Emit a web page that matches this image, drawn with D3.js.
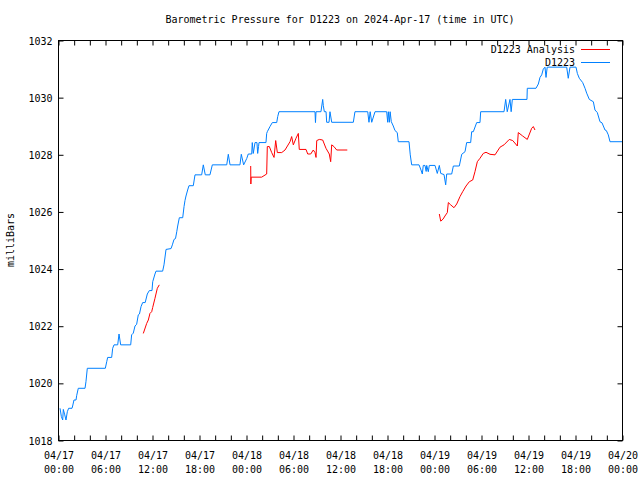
<!DOCTYPE html>
<html><head><meta charset="utf-8">
<script src="https://cdn.jsdelivr.net/npm/d3@7"></script>
<style>body{margin:0;background:#fff}svg{display:block}text{font-family:"DejaVu Sans Mono",monospace;font-size:10px;fill:#000}</style>
</head><body><svg id="c" width="640" height="480"></svg>
<script>
// ---- data (hours after 2024-04-17 00:00 UTC, millibars) ----
const stationHours = [0.26,0.43,0.60,0.68,0.86,1.02,1.19,1.36,1.79,1.87,2.04,2.30,2.38,2.59,3.45,3.57,3.74,6.04,6.22,6.34,6.85,6.98,7.15,7.62,7.79,8.00,9.28,9.40,9.61,9.83,10.04,10.25,10.40,10.60,10.81,11.13,11.40,11.66,12.00,12.09,12.38,12.51,13.36,13.53,13.79,14.43,14.60,14.81,15.00,15.16,15.28,15.49,15.92,16.09,16.21,16.34,16.55,16.72,17.27,17.49,18.34,18.55,18.80,19.40,19.70,21.54,21.74,21.96,23.23,23.40,23.70,24.09,24.29,24.73,24.80,24.93,25.15,25.40,25.49,25.60,25.66,26.55,26.64,26.72,27.06,27.36,27.92,28.05,28.21,32.81,32.87,32.94,33.57,33.79,33.87,34.00,34.22,34.30,34.60,34.72,34.94,37.70,37.91,39.54,39.70,39.85,40.05,40.47,41.96,42.09,42.17,42.30,42.40,42.55,42.80,43.02,43.31,43.44,44.81,44.97,45.15,46.09,46.34,46.51,46.63,46.85,47.00,47.07,47.27,47.40,48.13,48.42,48.68,48.86,49.28,49.49,49.62,50.26,50.47,51.23,51.54,51.96,52.17,52.68,52.81,53.02,53.45,53.87,53.96,56.94,57.15,57.35,57.70,57.85,58.00,59.87,59.91,61.02,61.32,61.53,61.75,61.95,62.17,62.30,62.45,64.94,65.14,65.36,66.13,66.30,66.55,66.98,67.28,67.49,67.83,68.34,68.55,68.85,69.19,69.45,69.83,70.00,70.25,70.47,72.00];
const stationValues = [1019.11,1018.82,1018.70,1019.07,1018.88,1018.70,1018.99,1019.11,1019.11,1019.19,1019.40,1019.40,1019.55,1019.81,1019.81,1020.04,1020.51,1020.51,1020.74,1020.89,1020.89,1021.21,1021.33,1021.33,1021.71,1021.33,1021.33,1021.68,1021.74,1021.99,1022.05,1022.38,1022.41,1022.67,1022.81,1022.81,1023.11,1023.23,1023.23,1023.54,1023.81,1023.91,1023.91,1024.13,1024.67,1024.70,1024.83,1025.02,1025.05,1025.29,1025.49,1025.78,1025.78,1026.17,1026.38,1026.54,1026.75,1026.90,1026.90,1027.28,1027.28,1027.63,1027.28,1027.28,1027.63,1027.63,1028.00,1027.63,1027.63,1028.00,1027.63,1027.85,1028.01,1028.01,1028.41,1028.03,1028.41,1028.41,1028.03,1028.27,1028.41,1028.41,1028.73,1028.79,1028.97,1029.11,1029.11,1029.32,1029.49,1029.49,1029.11,1029.49,1029.49,1029.92,1029.70,1029.49,1029.49,1029.12,1029.12,1029.49,1029.12,1029.12,1029.49,1029.49,1029.12,1029.49,1029.12,1029.49,1029.49,1029.12,1029.49,1029.12,1029.49,1029.14,1028.99,1028.83,1028.76,1028.44,1028.44,1027.98,1027.63,1027.63,1027.45,1027.31,1027.61,1027.61,1027.40,1027.61,1027.39,1027.61,1027.61,1027.33,1027.61,1027.33,1027.29,1026.93,1027.31,1027.31,1027.59,1027.59,1028.00,1028.09,1028.41,1028.41,1028.79,1028.79,1029.11,1029.11,1029.49,1029.49,1029.92,1029.49,1029.92,1029.49,1029.92,1029.92,1030.31,1030.31,1030.46,1030.69,1030.78,1030.98,1031.05,1030.69,1031.05,1031.05,1030.66,1031.05,1031.05,1030.83,1030.66,1030.51,1030.31,1030.14,1029.92,1029.84,1029.55,1029.46,1029.14,1029.10,1028.85,1028.83,1028.68,1028.44,1028.44];
// analysis series; null marks a gap between runs
const analysisHours = [10.89,11.32,11.53,11.74,11.96,12.09,12.38,12.68,12.93,null,24.60,24.62,24.66,26.00,26.64,26.72,26.98,27.28,27.58,27.79,28.00,28.56,28.98,29.62,29.83,30.04,30.38,30.68,30.80,31.66,31.88,32.26,32.59,32.81,32.94,33.03,33.36,33.79,34.21,34.63,34.81,34.94,35.23,35.58,36.93,null,48.68,48.86,49.15,49.40,49.70,49.83,50.13,50.55,50.90,51.32,51.66,52.09,52.51,52.94,53.23,53.53,53.87,54.29,54.64,55.15,55.79,56.43,56.94,57.61,58.05,58.64,58.76,59.32,59.91,60.47,60.68,60.89];
const analysisValues = [1021.73,1022.08,1022.20,1022.43,1022.49,1022.64,1022.96,1023.31,1023.43,null,1027.59,1026.96,1027.20,1027.20,1027.31,1028.27,1028.27,1028.06,1027.89,1028.48,1028.06,1028.06,1028.15,1028.44,1028.62,1028.33,1028.56,1028.73,1028.17,1028.17,1028.01,1028.01,1028.15,1028.06,1027.89,1028.48,1028.52,1028.50,1028.21,1028.01,1027.74,1028.33,1028.27,1028.15,1028.15,null,1025.91,1025.66,1025.73,1025.84,1025.96,1026.31,1026.23,1026.13,1026.26,1026.52,1026.69,1026.89,1027.04,1027.10,1027.39,1027.74,1027.86,1028.03,1028.07,1028.00,1027.98,1028.25,1028.33,1028.52,1028.48,1028.29,1028.76,1028.64,1028.52,1028.91,1028.97,1028.85];
const yTicks = [1018,1020,1022,1024,1026,1028,1030,1032];
const majorTickHours = [0,6,12,18,24,30,36,42,48,54,60,66,72];
const minorTickHours = d3.range(0,73,2);
const seriesNames = ["D1223 Analysis","D1223"];
const seriesColors = ["#ff0000","#0080ff"];
const titleText = "Barometric Pressure for D1223 on 2024-Apr-17 (time in UTC)";
const yLabel = "milliBars";

// ---- chart ----
const base = Date.UTC(2024,3,17,0,0);
const toDate = h => new Date(base + h*3600e3);
const L=58, R=622, T=40, B=440;
const svg = d3.select("#c");
svg.append("rect").attr("width",640).attr("height",480).attr("fill","#fff");
const x = d3.scaleUtc().domain([toDate(0), toDate(72)]).range([L, R]);
const y = d3.scaleLinear().domain([1018, 1032]).range([B, T]);

const g = svg.append("g").attr("transform","translate(0.5,0.5)");
function clean(sel){ sel.select(".domain").remove(); sel.selectAll("line").attr("stroke","#000"); }

// minor/major ticks bottom & top
g.append("g").attr("transform",`translate(0,${B})`)
  .call(d3.axisBottom(x).tickValues(minorTickHours.map(toDate)).tickSize(-5).tickFormat("")).call(clean);
g.append("g").attr("transform",`translate(0,${T})`)
  .call(d3.axisTop(x).tickValues(minorTickHours.map(toDate)).tickSize(-5).tickFormat("")).call(clean);
const fmtD = d3.utcFormat("%m/%d"), fmtT = d3.utcFormat("%H:%M");
const xb = g.append("g").attr("transform",`translate(0,${B})`)
  .call(d3.axisBottom(x).tickValues(majorTickHours.map(toDate)).tickSize(0).tickPadding(0).tickFormat(""));
xb.select(".domain").remove();
xb.selectAll(".tick").append("text").attr("text-anchor","middle").attr("y",18).text(d=>fmtD(d));
xb.selectAll(".tick").append("text").attr("text-anchor","middle").attr("y",32).text(d=>fmtT(d));

// y ticks left & right
const yl = g.append("g").attr("transform",`translate(${L},0)`)
  .call(d3.axisLeft(y).tickValues(yTicks).tickSize(-5).tickPadding(0).tickFormat(""));
clean(yl);
yl.selectAll(".tick").append("text").attr("text-anchor","end").attr("x",-6).attr("dy","0.35em").text(d=>d);
g.append("g").attr("transform",`translate(${R},0)`)
  .call(d3.axisRight(y).tickValues(yTicks).tickSize(-5).tickFormat("")).call(clean);

// frame
g.append("rect").attr("x",L).attr("y",T).attr("width",R-L).attr("height",B-T)
  .attr("fill","none").attr("stroke","#000");

// lines
const stationData = stationHours.map((h,i)=>({d:toDate(h), v:stationValues[i]}));
const analysisData = analysisHours.map((h,i)=>({d: h==null?null:toDate(h), v:analysisValues[i]}));
const line = d3.line().defined(p=>p.d!=null && p.v!=null).x(p=>x(p.d)).y(p=>y(p.v));
svg.append("path").datum(stationData).attr("d",line).attr("fill","none")
  .attr("stroke",seriesColors[1]).attr("stroke-width",1);
svg.append("path").datum(analysisData).attr("d",line).attr("fill","none")
  .attr("stroke",seriesColors[0]).attr("stroke-width",1);

// legend
seriesNames.forEach((n,i)=>{
  const yy = 49 + i*13;
  svg.append("text").attr("x",575).attr("y",yy).attr("dy","0.35em").attr("text-anchor","end").text(n);
  svg.append("line").attr("x1",581).attr("x2",610).attr("y1",yy+0.5).attr("y2",yy+0.5)
    .attr("stroke",seriesColors[i]).attr("stroke-width",1);
});

// title & y label
svg.append("text").attr("x",340).attr("y",23).attr("text-anchor","middle").text(titleText);
svg.append("text").attr("transform","translate(14,240) rotate(-90)").attr("text-anchor","middle").text(yLabel);
</script></body></html>
